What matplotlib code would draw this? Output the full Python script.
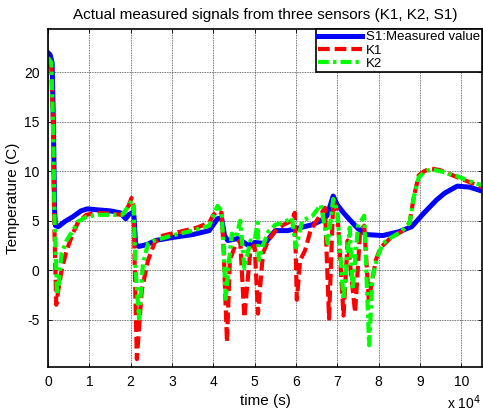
import matplotlib
matplotlib.use("Agg")
import matplotlib.pyplot as plt
import numpy as np

plt.rcParams['font.family'] = ['Liberation Sans', 'DejaVu Sans']

# time in seconds
s1_t = [0, 500, 1000, 1300, 1600, 1800, 2500, 4000, 6000, 8000, 9500, 12000, 15000, 17500, 18800,
        19500, 20300, 20800, 21200, 22000, 24000, 26000, 30000, 35000, 39000, 40000, 41000, 42000,
        42700, 43500, 46000, 48500, 50000, 52500, 54000, 55000, 58000, 61000, 64000, 66000, 67500,
        69000, 70000, 71500, 73000, 75000, 77000, 81000, 85000, 88000, 91000, 94000, 96000, 99000,
        102000, 105000]
s1_v = [22.0, 21.8, 21.0, 15.0, 6.0, 4.5, 4.4, 4.9, 5.4, 6.0, 6.2, 6.1, 6.0, 5.8, 5.2,
        5.6, 5.8, 5.5, 2.6, 2.4, 2.6, 3.0, 3.3, 3.6, 4.0, 4.6, 5.2, 5.3,
        3.5, 3.0, 3.2, 2.5, 2.8, 2.7, 3.5, 4.0, 4.0, 4.3, 4.6, 5.0, 5.5,
        7.5, 6.6, 5.8, 5.1, 4.2, 3.6, 3.5, 3.9, 4.4, 5.8, 7.1, 7.8, 8.5,
        8.4, 8.0]

k1_t = [0, 800, 1200, 1500, 2000, 2500, 3300, 4500, 6000, 7200, 9300, 12000, 15000, 18000, 19500,
        20200, 20700, 21000, 21500, 22000, 22700, 24200, 25800, 27800, 32000, 36000, 39000, 40000,
        41000, 42000, 42500, 43300, 44000, 45300, 46500, 47500, 49000, 50000, 50800, 52000, 53300,
        55000, 57000, 59000, 59700, 60200, 61000, 62200, 63500, 65000, 67000, 68000, 69000, 70000,
        71500, 72500, 74300, 75500, 76500, 77600, 79300, 80500, 83000, 85500, 87500, 88500, 89700,
        91000, 92600, 95000, 99000, 102000, 105000]
k1_v = [20.8, 20.5, 15.0, 5.0, -3.5, -2.0, 0.0, 2.0, 3.7, 4.8, 5.6, 5.8, 5.7, 5.6, 6.5,
        7.3, 6.5, 0.0, -9.0, -6.0, -2.0, 1.0, 2.8, 3.5, 3.9, 4.3, 4.8, 5.6,
        6.0, 5.8, 2.0, -7.3, 1.0, 2.5, 3.0, -4.8, 2.2, 2.5, -4.4, 1.7, 3.0,
        4.0, 4.6, 5.0, 5.8, -3.0, 1.0, 2.0, 4.0, 5.0, 6.3, -4.9, 7.0, 6.0,
        -4.6, 3.0, -4.3, 3.9, 4.5, -3.0, 1.0, 2.3, 3.3, 3.9, 4.8, 7.4, 9.6,
        10.0, 10.3, 10.1, 9.4, 8.9, 8.4]

k2_t = [0, 800, 1200, 1600, 2200, 2700, 3300, 4500, 6000, 7200, 9300, 12000, 15000, 18000, 19500,
        20200, 20700, 21200, 22000, 22500, 23000, 24200, 25800, 30000, 35000, 39000, 40000, 41000,
        42000, 42500, 43000, 43800, 44500, 45500, 46500, 47500, 49000, 50000, 50700, 51000, 52000,
        53300, 55000, 57000, 59000, 60000, 61500, 64000, 66000, 67700, 69000, 70000, 71500, 73000,
        73700, 75000, 76500, 77700, 78500, 79700, 81000, 83000, 85500, 87500, 88500, 89700, 91000,
        92600, 95000, 99000, 102000, 105000]
k2_v = [21.5, 21.0, 15.0, 5.0, -2.5, -1.0, 1.7, 3.0, 4.0, 4.9, 5.4, 5.6, 5.6, 5.6, 6.5,
        7.0, 6.5, 0.0, -4.9, -2.0, 0.7, 2.7, 3.0, 3.5, 4.0, 4.5, 5.5, 6.5,
        6.0, 2.0, -2.9, 1.0, 3.7, 3.3, 5.0, 0.2, 3.0, 3.0, 4.8, 1.0, 2.5,
        3.9, 4.6, 4.8, 5.3, 2.3, 5.0, 5.5, 6.6, 2.7, 7.2, 6.0, -3.0, 4.3,
        -2.0, 4.5, 5.5, -7.6, -0.7, 1.3, 2.7, 3.3, 3.9, 4.8, 7.4, 9.4, 9.9,
        10.2, 10.0, 9.5, 9.0, 8.6]

x_ticks = [0, 1, 2, 3, 4, 5, 6, 7, 8, 9, 10]
y_ticks = [-5, 0, 5, 10, 15, 20]

fig = plt.figure(figsize=(4.83, 4.12), dpi=100)
ax = fig.add_axes([48 / 483, 1 - 367 / 412, (482 - 48) / 483, (367 - 29) / 412])

ax.plot(s1_t, s1_v, color=(0, 0, 1), lw=3.6, solid_joinstyle='round', label='S1:Measured value')
ax.plot(k1_t, k1_v, color=(1, 0, 0), lw=3.0, dashes=(2.8, 1.2), label='K1')
ax.plot(k2_t, k2_v, color=(0, 1, 0), lw=3.0, dashes=(2.6, 1.0, 0.8, 1.0), label='K2')

ax.set_xlim(0, 105000)
ax.set_ylim(-9.8, 24.4)
ax.set_xticks([v * 1e4 for v in x_ticks])
ax.set_xticklabels([str(v) for v in x_ticks])
ax.set_yticks(y_ticks)
ax.set_yticklabels([str(v) for v in y_ticks])
ax.tick_params(direction='in', top=True, right=True, labelsize=10, length=3, width=0.6, pad=6)
ax.grid(True, color='#444444', linestyle=(0, (1, 1)), linewidth=0.6)
for sp in ax.spines.values():
    sp.set_linewidth(1.2)

ax.set_title('Actual measured signals from three sensors (K1, K2, S1)', fontsize=11, pad=7)
ax.set_xlabel('time (s)', fontsize=11, labelpad=3)
ax.set_ylabel('Temperature (C)', fontsize=11, labelpad=3)
fig.text(447 / 483, 1 - 403 / 412, r'x 10$^{4}$', fontsize=10, va='center', ha='left')

leg = ax.legend(loc='upper right', bbox_to_anchor=(1.0, 1.0), fontsize=9.5, frameon=True,
                fancybox=False, edgecolor='black', framealpha=1, borderpad=0.15,
                labelspacing=0.08, handlelength=3.3, handletextpad=0.3, borderaxespad=0)
leg.get_frame().set_linewidth(1.2)

fig.savefig('out.png', dpi=100)
